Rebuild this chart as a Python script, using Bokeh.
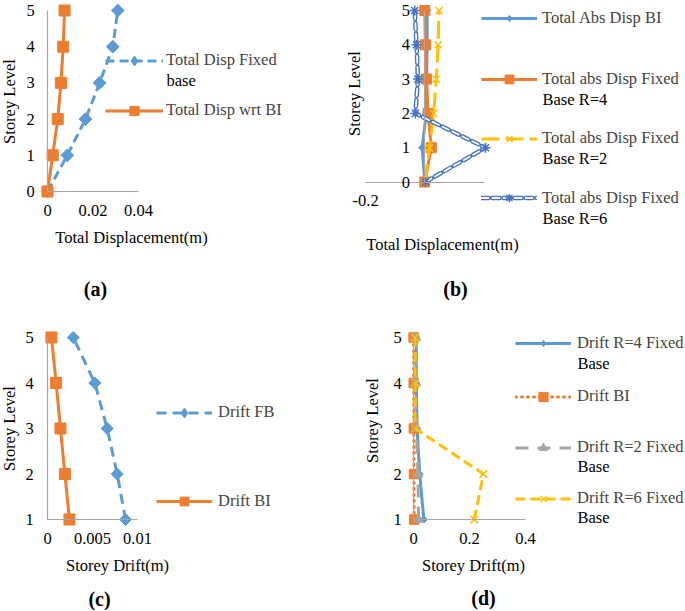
import numpy as np
from bokeh.plotting import figure
from bokeh.models import Legend, LegendItem, Label, FixedTicker, Range1d
from bokeh.layouts import row, column
from bokeh.embed import file_html
from bokeh.resources import INLINE

# ---------------- data ----------------
storey_a = [0, 1, 2, 3, 4, 5]
disp_fixed = [0.0, 0.0087, 0.0167, 0.0229, 0.0287, 0.0309]
disp_bi = [0.0, 0.0023, 0.0045, 0.0059, 0.0069, 0.0075]

storey_b = [0, 1, 2, 3, 4, 5]
abs_bi = [0.0, -0.009, 0.005, 0.006, 0.008, 0.008]
abs_r4 = [0.0, 0.022, 0.011, 0.006, 0.002, 0.0]
abs_r2 = [0.0, 0.016, 0.030, 0.039, 0.045, 0.048]
abs_r6 = [0.002, 0.205, -0.032, -0.023, -0.028, -0.034]

storey_c = [1, 2, 3, 4, 5]
drift_fb = [0.00867, 0.00774, 0.00663, 0.00526, 0.00286]
drift_bi = [0.00244, 0.00193, 0.00144, 0.00096, 0.00044]

storey_d = [1, 2, 3, 4, 5]
drift_r4 = [0.037, 0.022, 0.013, 0.010, 0.010]
drift_bi_d = [0.00244, 0.00193, 0.00144, 0.00096, 0.00044]
drift_r2 = [0.018, 0.016, 0.010, 0.008, 0.008]
drift_r6 = [0.217, 0.250, 0.006, 0.006, 0.006]

ticks_a_x = [0, 0.02, 0.04]
ticks_b_x = [-0.2]
ticks_c_x = [0, 0.005, 0.01]
ticks_d_x = [0, 0.2, 0.4]
ticks_ab_y = [0, 1, 2, 3, 4, 5]
ticks_cd_y = [1, 2, 3, 4, 5]

# ---------------- style ----------------
FONT = "Liberation Serif"
FS = "16.5px"
CAP_FS = "20px"
AXIS_COLOR = "#A6A6A6"
BLUE = "#5B9BD5"
ORANGE = "#ED7D31"
GREY = "#A5A5A5"
YELLOW = "#FFC000"
DBLUE = "#4472C4"


class Panel:
    """A figure whose frame fills its whole canvas; geometry in page pixels."""

    def __init__(self, ox, oy, W, H, xa, pxa, sx, ya, pya, sy,
                 x_base, y_base, xbounds, ybounds, xticks, yticks, ystand):
        self.ox, self.oy, self.W, self.H = ox, oy, W, H
        xs = xa - (pxa - ox) / sx
        ye = ya + (pya - oy) / sy
        p = figure(width=W, height=H,
                   x_range=Range1d(xs, xs + W / sx), y_range=Range1d(ye - H / sy, ye),
                   x_axis_location="above", y_axis_location="right",
                   output_backend="svg", toolbar_location=None,
                   min_border=0, min_border_left=0, min_border_right=0,
                   min_border_top=0, min_border_bottom=0)
        p.outline_line_color = None
        p.grid.visible = False
        p.background_fill_color = None
        p.border_fill_color = None
        for ax in (p.xaxis[0], p.yaxis[0]):
            ax.axis_line_color = AXIS_COLOR
            ax.axis_line_width = 1.2
            ax.major_tick_line_color = None
            ax.minor_tick_line_color = None
            ax.major_tick_out = 0
            ax.major_tick_in = 0
            ax.minor_tick_out = 0
            ax.major_label_text_font = FONT
            ax.major_label_text_font_size = FS
            ax.major_label_text_color = "black"
        xa_ = p.xaxis[0]
        xa_.fixed_location = y_base
        xa_.bounds = xbounds
        xa_.ticker = FixedTicker(ticks=xticks)
        xa_.major_label_standoff = -24
        ya_ = p.yaxis[0]
        ya_.fixed_location = x_base
        ya_.bounds = ybounds
        ya_.ticker = FixedTicker(ticks=yticks)
        ya_.major_label_standoff = ystand
        self.p = p

    def scr(self, px, py):
        return px - self.ox, self.oy + self.H - py

    def text(self, text, px, py, size=FS, bold=False, angle=0.0, align="center"):
        x, y = self.scr(px, py)
        self.p.add_layout(Label(x=x, y=y, x_units="screen", y_units="screen",
                                text=text, text_align=align, text_baseline="middle",
                                text_font=FONT, text_font_size=size,
                                text_font_style="bold" if bold else "normal",
                                text_color="black", angle=angle))

    def legend(self, label, rends, px, py, gw, gh, standoff, line2=None):
        item_h = max(gh, 20)
        x, y = self.scr(px, py + item_h / 2)
        lg = Legend(items=[LegendItem(label=label, renderers=rends)],
                    location=(x, y),
                    glyph_width=gw, glyph_height=gh, label_standoff=standoff,
                    padding=0, margin=0, spacing=0, label_height=20,
                    border_line_color=None, background_fill_alpha=0,
                    label_text_font=FONT, label_text_font_size=FS,
                    label_text_line_height=1.2)
        self.p.add_layout(lg)
        if line2 is not None:
            text2, py2 = line2
            self.text(text2, px + gw + standoff, py2, align="left")


def series(p, x, y, color, width, dash, marker, msize, angle=0.0, mlw=1.0, cap="butt"):
    r1 = p.line(x, y, line_color=color, line_width=width, line_dash=dash,
                line_cap=cap, line_join="round")
    r2 = p.scatter(x, y, marker=marker, size=msize, angle=angle,
                   fill_color=color, line_color=color, line_width=mlw)
    return [r1, r2]


def legend_diamond(p, color):
    # marker sample used only by the legend (its single point is NaN, so nothing is plotted)
    return p.scatter([np.nan], [np.nan], marker="diamond", fill_color=color, line_color=color)


ROT = np.pi / 4

# ---------------- panel (a) ----------------
A = Panel(0, 0, 340, 303, 0.0, 47, 2275.0, 0.0, 191, 36.2,
          0, 0, (0, 0.04), (0, 5), ticks_a_x, ticks_ab_y, -21)
ra1 = series(A.p, disp_fixed, storey_a, BLUE, 3, "9 5", "square", 9, angle=ROT)
ra2 = series(A.p, disp_bi, storey_a, ORANGE, 3, "solid", "square", 11)
A.legend("Total Disp Fixed", [ra1[0], legend_diamond(A.p, BLUE)], 105, 60, 58, 25, 3,
         line2=("base", 80))
A.legend("Total Disp wrt BI", ra2, 105, 110, 58, 23, 3)
A.text("Storey Level", 9, 101, angle=np.pi / 2)
A.text("Total Displacement(m)", 131, 237)
A.text("(a)", 95, 288, size=CAP_FS, bold=True)

# ---------------- panel (b) ----------------
B = Panel(340, 0, 345, 303, 0.0, 424.3, 296.0, 0.0, 181.5, 34.3,
          0, 0, (-0.2, 0.2), (0, 5), ticks_b_x, ticks_ab_y, -23)
B.p.xaxis[0].major_label_overrides = {-0.2: "-0.2"}
rb1 = series(B.p, abs_bi, storey_b, BLUE, 3, "solid", "square", 5, angle=ROT)
rb2 = series(B.p, abs_r4, storey_b, ORANGE, 3, "solid", "square", 10)
rb3 = series(B.p, abs_r2, storey_b, YELLOW, 3, "18 6", "x", 10, mlw=1.5)
rb4a = B.p.line(abs_r6, storey_b, line_color=DBLUE, line_width=4.5, line_dash="7 4", line_cap="round")
rb4b = B.p.line(abs_r6, storey_b, line_color="white", line_width=1.8, line_dash="7 4", line_cap="round")
rb4c = B.p.scatter(abs_r6, storey_b, marker="asterisk", size=10, line_color=DBLUE, line_width=1.5)
B.legend("Total Abs Disp BI", [rb1[0], legend_diamond(B.p, BLUE)], 481, 18, 56, 16, 5)
B.legend("Total abs Disp Fixed", rb2, 481, 79, 56, 22, 5, line2=("Base R=4", 99))
B.legend("Total abs Disp Fixed", rb3, 481, 138, 56, 21, 5, line2=("Base R=2", 158))
B.legend("Total abs Disp Fixed", [rb4a, rb4b, rb4c], 481, 197.5, 56, 21, 5,
         line2=("Base R=6", 217.5))
B.text("Storey Level", 354, 93, angle=np.pi / 2)
B.text("Total Displacement(m)", 442, 244)
B.text("(b)", 455, 288, size=CAP_FS, bold=True)

# ---------------- panel (c) ----------------
C = Panel(0, 303, 340, 307, 0.0, 47, 9000.0, 1.0, 519, 45.5,
          0, 1, (0, 0.01), (1, 5), ticks_c_x, ticks_cd_y, -22)
rc1 = series(C.p, drift_fb, storey_c, BLUE, 3, "10 6", "square", 8.5, angle=ROT)
rc2 = series(C.p, drift_bi, storey_c, ORANGE, 3, "solid", "square", 11)
C.legend("Drift FB", [rc1[0], legend_diamond(C.p, BLUE)], 156, 412, 56, 25, 6)
C.legend("Drift BI", rc2, 156, 501, 56, 22, 6)
C.text("Storey Level", 9, 428, angle=np.pi / 2)
C.text("Storey Drift(m)", 117, 565)
C.text("(c)", 99, 598, size=CAP_FS, bold=True)

# ---------------- panel (d) ----------------
D = Panel(340, 303, 345, 307, 0.0, 413, 280.0, 1.0, 519, 45.5,
          0, 1, (0, 0.4), (1, 5), ticks_d_x, ticks_cd_y, -20)
rd1 = series(D.p, drift_r4, storey_d, BLUE, 3, "solid", "square", 5, angle=ROT)
rd2 = series(D.p, drift_bi_d, storey_d, ORANGE, 3, "1 5", "square", 9.5, cap="round")
rd3 = series(D.p, drift_r2, storey_d, GREY, 3, "13 9", "triangle", 10)
rd4 = series(D.p, drift_r6, storey_d, YELLOW, 3, "10 5", "x", 11, mlw=1.5)
D.legend("Drift R=4 Fixed", [rd1[0], legend_diamond(D.p, BLUE)], 515, 343, 56, 16, 6,
         line2=("Base", 362.5))
D.legend("Drift BI", rd2, 515, 396, 56, 23, 6)
D.legend("Drift R=2 Fixed", rd3, 515, 447, 56, 21, 6, line2=("Base", 466))
D.legend("Drift R=6 Fixed", rd4, 515, 498, 56, 21, 6, line2=("Base", 517))
D.text("Storey Level", 372, 420, angle=np.pi / 2)
D.text("Storey Drift(m)", 473, 565)
D.text("(d)", 483, 597, size=CAP_FS, bold=True)

layout = column(row(A.p, B.p), row(C.p, D.p))
open("out.html", "w").write(file_html(layout, INLINE))
